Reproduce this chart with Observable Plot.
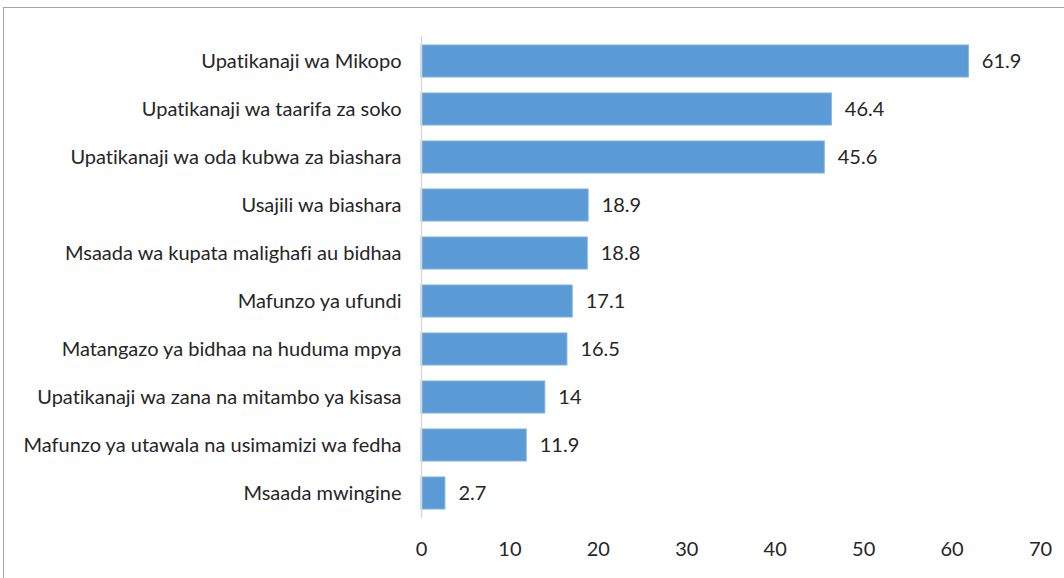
<!DOCTYPE html>
<html><head><meta charset="utf-8">
<script src="https://cdn.jsdelivr.net/npm/d3@7"></script>
<script src="https://cdn.jsdelivr.net/npm/@observablehq/plot@0.6"></script>
<style>
body{margin:0;background:#fff;}
#wrap{position:relative;width:1064px;height:578px;overflow:hidden;}
#border{position:absolute;left:3px;top:7px;width:1100px;height:620px;border:1.5px solid #a6a6a6;box-sizing:border-box;}
#chart{position:absolute;left:0;top:0;}
#chart svg text{font-variant-ligatures:none;}
</style></head>
<body><div id="wrap"><div id="border"></div><div id="chart"></div></div>
<script>
const categories = [
  "Upatikanaji wa Mikopo",
  "Upatikanaji wa taarifa za soko",
  "Upatikanaji wa oda kubwa za biashara",
  "Usajili wa biashara",
  "Msaada wa kupata malighafi au bidhaa",
  "Mafunzo ya ufundi",
  "Matangazo ya bidhaa na huduma mpya",
  "Upatikanaji wa zana na mitambo ya kisasa",
  "Mafunzo ya utawala na usimamizi wa fedha",
  "Msaada mwingine"
];
const values = [61.9, 46.4, 45.6, 18.9, 18.8, 17.1, 16.5, 14, 11.9, 2.7];
const xTicks = [0, 10, 20, 30, 40, 50, 60, 70];
const data = categories.map((c, i) => ({category: c, value: values[i]}));

const chart = Plot.plot({
  width: 1064,
  height: 578,
  marginLeft: 421,
  marginRight: 24,
  marginTop: 36,
  marginBottom: 60,
  style: {fontFamily: "Lato, sans-serif", fontSize: "20px", color: "#262626", background: "transparent"},
  x: {domain: [0, 70], ticks: xTicks, tickSize: 0, tickPadding: 23, label: null},
  y: {domain: categories, paddingInner: 0.33, paddingOuter: 0.166, align: 0.5, tickSize: 0, tickPadding: 20, label: null},
  marks: [
    Plot.barX(data, {x: "value", y: "category", fill: "#5b9bd5", stroke: "#7fb0e0", strokeWidth: 1}),
    Plot.ruleX([0], {stroke: "#d9d9d9", strokeWidth: 1.5}),
    Plot.text(data, {x: "value", y: "category", text: d => String(d.value), textAnchor: "start", dx: 13, fontSize: 20, fill: "#262626"})
  ]
});
document.getElementById("chart").appendChild(chart);
</script></body></html>
